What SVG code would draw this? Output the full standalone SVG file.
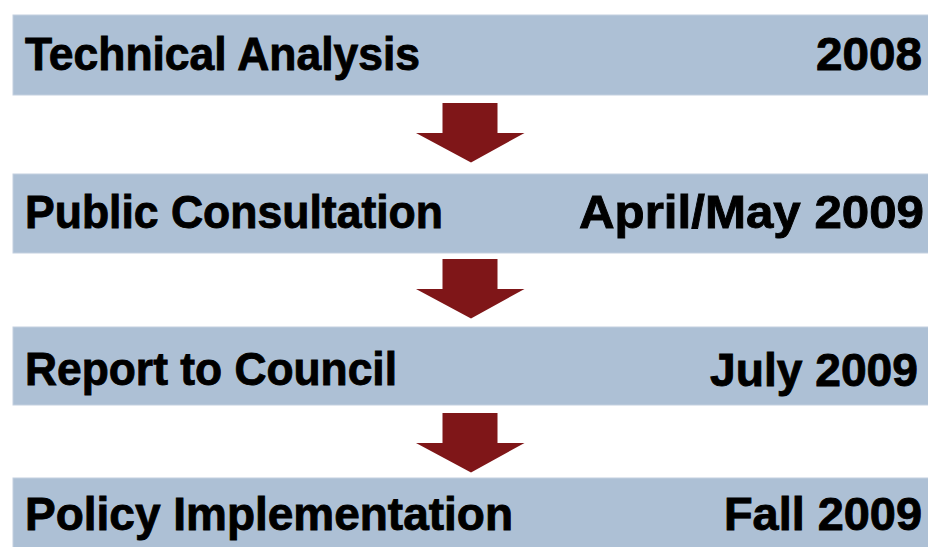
<svg xmlns="http://www.w3.org/2000/svg" width="928" height="547" viewBox="0 0 928 547">
<defs>
<style>
.bar{fill:#adc0d5;stroke:#c3d0df;stroke-width:1}
.t{font-family:"Liberation Sans",Arial,sans-serif;font-weight:bold;font-size:47px;fill:#000;stroke:#000;stroke-width:0.9}
.arr{fill:#7f1618}
</style>
</defs>
<rect width="928" height="547" fill="#fff"/>
<g id="node1">
<rect class="bar" x="13" y="15" width="920" height="80"/>
<text class="t" x="25" y="70" textLength="395" lengthAdjust="spacingAndGlyphs">Technical Analysis</text>
<text class="t" x="816" y="70" textLength="106" lengthAdjust="spacingAndGlyphs">2008</text>
</g>
<g id="node2">
<rect class="bar" x="13" y="174" width="920" height="79"/>
<text class="t" x="25" y="228" textLength="418" lengthAdjust="spacingAndGlyphs">Public Consultation</text>
<text class="t" x="579" y="228" textLength="345" lengthAdjust="spacingAndGlyphs">April/May 2009</text>
</g>
<g id="node3">
<rect class="bar" x="13" y="327" width="920" height="78"/>
<text class="t" x="25" y="385" textLength="372" lengthAdjust="spacingAndGlyphs">Report to Council</text>
<text class="t" x="710" y="386" textLength="208" lengthAdjust="spacingAndGlyphs">July 2009</text>
</g>
<g id="node4">
<rect class="bar" x="13" y="478" width="920" height="80"/>
<text class="t" x="25" y="530" textLength="488" lengthAdjust="spacingAndGlyphs">Policy Implementation</text>
<text class="t" x="724" y="530" textLength="198" lengthAdjust="spacingAndGlyphs">Fall 2009</text>
</g>
<g id="connectors">
<polygon class="arr" points="442.5,103 497.5,103 497.5,133 524.5,133 471,162.5 416,133 442.5,133"/>
<polygon class="arr" points="442.5,259 497.5,259 497.5,289 524.5,289 471,318.5 416,289 442.5,289"/>
<polygon class="arr" points="442.5,413 497.5,413 497.5,443 524.5,443 471,472.5 416,443 442.5,443"/>
</g>
</svg>
